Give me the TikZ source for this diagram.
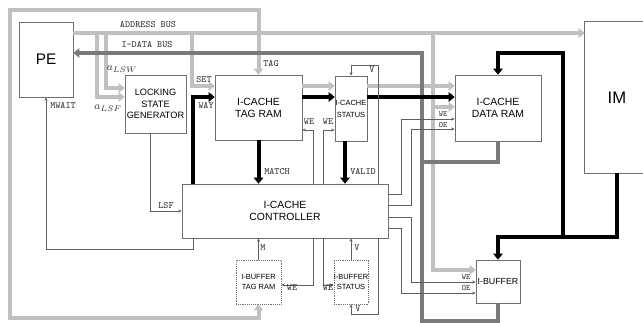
\documentclass[tikz,border=0pt]{standalone}
\usepackage{fontspec}
\setmainfont{Liberation Sans}
\usepackage{tikz}
\usetikzlibrary{arrows.meta, calc}
\definecolor{addrgray}{RGB}{192,192,192}
\definecolor{datagray}{RGB}{122,122,122}
\definecolor{wiregray}{RGB}{95,95,95}
\definecolor{edgegray}{RGB}{112,112,112}

\begin{document}
\begin{tikzpicture}[x=0.75pt, y=-0.75pt,
  unit/.style={rectangle, draw=edgegray, fill=white, inner sep=0pt,
               align=center, font=\fontsize{7.8}{9}\selectfont},
  bufunit/.style={unit, densely dotted, font=\fontsize{5.6}{8}\selectfont},
  sig/.style={font=\ttfamily\fontsize{7.2}{8}\selectfont, text=black!80, inner sep=0pt},
  abus/.style={line width=3pt, draw=addrgray, -{Triangle[length=4.5pt,width=7pt]}},
  dbus/.style={line width=3pt, draw=datagray},
  ibus/.style={line width=3pt, draw=black, -{Triangle[length=4.5pt,width=7pt]}},
  wire/.style={draw=wiregray, line width=0.6pt, -{Stealth[length=2.6pt,width=2.2pt]}}
]
\useasboundingbox[fill=white] (0,0) rectangle (643,323);

%% ── Units ───────────────────────────────────────────────────────────────
\node[unit, minimum width=40.5pt, minimum height=56.25pt, font=\fontsize{11.5}{12}\selectfont]
  (pe) at (46,59.5) {PE};
\node[unit, minimum width=45.75pt, minimum height=43.5pt, font=\fontsize{6.9}{8.4}\selectfont]
  (lsg) at (155.5,104) {LOCKING\\STATE\\GENERATOR};
\node[unit, minimum width=65.25pt, minimum height=48.75pt] (tagram) at (258.5,107.5) {I-CACHE\\TAG RAM};
\node[unit, minimum width=24pt, minimum height=48.75pt, font=\fontsize{5.6}{9}\selectfont]
  (status) at (351,108.5) {I-CACHE\\STATUS};
\node[unit, minimum width=64.5pt, minimum height=49.5pt] (dataram) at (498,108) {I-CACHE\\DATA RAM};
\node[unit, minimum width=154.5pt, minimum height=40.5pt] (ctrl) at (285,211) {I-CACHE\\CONTROLLER};
\node[bufunit, minimum width=33.75pt, minimum height=33pt] (ibtag) at (258.5,282) {I-BUFFER\\TAG RAM};
\node[bufunit, minimum width=24pt, minimum height=33pt] (ibstat) at (351,282) {I-BUFFER\\STATUS};
\node[unit, minimum width=33pt, minimum height=32.25pt, font=\fontsize{6.6}{8}\selectfont]
  (ibuf) at (498,281.5) {I-BUFFER};
\node[inner sep=0pt, minimum width=48pt, minimum height=113.25pt, font=\fontsize{12.5}{13}\selectfont]
  (im) at (617,97.5) {IM};
\draw[edgegray] (im.north east) -- (im.north west) -- (im.south west) -- (im.south east);

%% ── Address bus (light gray) ────────────────────────────────────────────
\coordinate (abl) at (97,33);
\coordinate (lsf) at (97,97);
\coordinate (lsw) at (106,88);
\coordinate (set) at (192,86);
\coordinate (ibw) at (433,270);
\coordinate (drw) at (433,107);
\coordinate (fbl) at (10,318);
\coordinate (ftl) at (10,10);

\draw[abus] (pe.east |- abl) -- (im.west |- abl);
\draw[abus] (abl) -- (lsf) -- (lsg.west |- lsf);
\draw[abus] (lsw |- abl) -- (lsw) -- (lsg.west |- lsw);
\draw[abus] (set |- abl) -- (set) -- (tagram.west |- set);
\draw[abus] (tagram.east |- set) -- (status.west |- set);
\draw[abus] (status.east |- set) -- (dataram.west |- set);
\draw[abus] (ibw |- abl) -- (ibw) -- (ibuf.west |- ibw);
\draw[abus] (drw) -- (dataram.west |- drw);
\draw[abus, {Triangle[length=4.5pt,width=7pt]}-{Triangle[length=4.5pt,width=7pt]}]
  (ibtag.south) |- (fbl) -- (ftl) -| (tagram.north);

%% ── I-data bus (dark gray) ──────────────────────────────────────────────
\coordinate (dlow) at (422,321);
\coordinate (dmid) at (422,162);
\coordinate (dtop) at (422,53);
\draw[dbus, -{Triangle[length=4.5pt,width=7pt]}]
  (ibuf.south) |- (dlow) -- (dtop) -- (pe.east |- dtop);
\draw[dbus] (dataram.south) |- (dmid);

%% ── Instruction lines (black) ───────────────────────────────────────────
\coordinate (way) at (193,97);
\coordinate (vld) at (345,141);
\coordinate (ijoin) at (563,237);
\coordinate (itop) at (563,53);
\draw[ibus] (ctrl.north -| way) -- (way) -- (tagram.west |- way);
\draw[ibus] (tagram.east |- way) -- (status.west |- way);
\draw[ibus] (status.east |- way) -- (dataram.west |- way);
\draw[ibus] (tagram.south) -- (ctrl.north -| tagram.south);
\draw[ibus] (status.south -| vld) -- (ctrl.north -| vld);
\draw[ibus] (im.south) |- (ijoin) -| (ibuf.north);
\draw[ibus] (ijoin) -- (itop) -| (dataram.north);

%% ── Control wires ───────────────────────────────────────────────────────
\coordinate (lsfc) at (150,211);
\coordinate (mw) at (193,249);
\coordinate (vs) at (378,65);
\coordinate (wet) at (313,130);
\coordinate (wes) at (323,130);
\coordinate (webt) at (313,285);
\coordinate (webs) at (323,285);
\coordinate (vb) at (378,314);
\draw[wire] (lsg.south -| lsfc) -- (lsfc) -- (ctrl.west);
\draw[wire] (ctrl.south -| mw) -- (mw) -| (pe.south);
\draw[wire] (ctrl.north -| vs) -- (vs) -| (status.north);
\draw[wire] (ctrl.north -| wet) -- (wet) -- (tagram.east |- wet);
\draw[wire] (ctrl.north -| wes) -- (wes) -- (status.west |- wes);
\draw[wire] (ibtag.north) -- (ctrl.south -| ibtag.north);
\draw[wire] (ctrl.south -| webt) -- (webt) -- (ibtag.east |- webt);
\draw[wire] (ctrl.south -| webs) -- (webs) -- (ibstat.west |- webs);
\draw[wire] (ibstat.north) -- (ctrl.south -| ibstat.north);
\draw[wire] (ctrl.south -| vb) -- (vb) -| (ibstat.south);

\coordinate (dwe) at (401,194);
\coordinate (doe) at (411,205);
\coordinate (bwe) at (411,217);
\coordinate (boe) at (401,228);
\draw[wire] (ctrl.east |- dwe) -- (dwe) -- ++(0,-75) -- (dataram.west |- 0,119);
\draw[wire] (ctrl.east |- doe) -- (doe) -- ++(0,-76) -- (dataram.west |- 0,129);
\draw[wire] (ctrl.east |- bwe) -- (bwe) -- ++(0,65) -- (ibuf.west |- 0,282);
\draw[wire] (ctrl.east |- boe) -- (boe) -- ++(0,65) -- (ibuf.west |- 0,293);

%% ── Signal labels ───────────────────────────────────────────────────────
\node[sig] (l-addr) at (148,25) {ADDRESS BUS};
\node[sig] (l-data) at (147,45) {I-DATA BUS};
\node[inner sep=0pt, font=\fontsize{8}{9}\selectfont, text=black!80] (l-lsw) at (122,69) {$a_{LSW}$};
\node[inner sep=0pt, font=\fontsize{8}{9}\selectfont, text=black!80] (l-lsf) at (108,108) {$a_{LSF}$};
\node[sig] (l-mwait) at (63,106) {MWAIT};
\node[sig] (l-set) at (204,80) {SET};
\node[sig] (l-way) at (206,106) {WAY};
\node[sig] (l-tag) at (271,64) {TAG};
\node[sig] (l-v1) at (372,70) {V};
\node[sig] (l-we1) at (309,122) {WE};
\node[sig] (l-we2) at (328,122) {WE};
\node[sig] (l-match) at (277,172) {MATCH};
\node[sig] (l-valid) at (363,172) {VALID};
\node[sig] (l-lsf2) at (166,206) {LSF};
\node[sig] (l-m) at (263,248) {M};
\node[sig] (l-v2) at (357,248) {V};
\node[sig] (l-we3) at (292,288) {WE};
\node[sig] (l-we4) at (328,288) {WE};
\node[sig] (l-v3) at (358,309) {V};
\node[sig, font=\ttfamily\fontsize{6}{6}\selectfont] (l-we5) at (443,114) {WE};
\node[sig, font=\ttfamily\fontsize{6}{6}\selectfont] (l-oe1) at (443,125) {OE};
\node[sig, font=\ttfamily\fontsize{6}{6}\selectfont] (l-we6) at (466,277) {WE};
\node[sig, font=\ttfamily\fontsize{6}{6}\selectfont] (l-oe2) at (466,288) {OE};

\end{tikzpicture}
\end{document}
